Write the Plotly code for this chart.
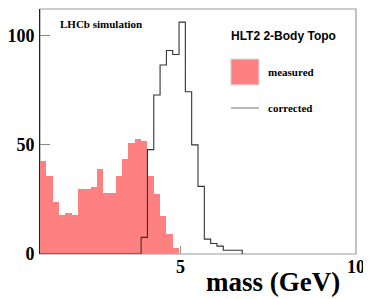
import plotly.graph_objects as go

# Binning of the histograms (GeV)
X_START = 1.0
BIN_WIDTH = 0.18

# Measured mass histogram (22 bins starting at 1 GeV)
measured = [42.7, 35.8, 23.9, 17.7, 18.8, 17.7, 29.7, 29.7, 30.6, 38.8, 27.9,
            27.9, 35.8, 43.6, 50.6, 52.7, 51.8, 35.6, 27.3, 17.6, 9.1, 2.7]

# Corrected mass histogram (32 bins starting at 1 GeV)
corrected = [0] * 16 + [7.6, 47.7, 72.7, 86.4, 93.0, 91.2, 106.0, 74.2, 49.9,
                        30.9, 6.8, 4.8, 3.6, 1.7, 1.7, 1.7]

x_ticks = [5, 10]
y_ticks = [0, 50, 100]

x_range = [1, 10]
y_range = [0, 112]

meas_centers = [X_START + BIN_WIDTH * (i + 0.5) for i in range(len(measured))]
corr_edges = [X_START + BIN_WIDTH * i for i in range(len(corrected) + 1)]
line_x = [corr_edges[0]] + corr_edges + [corr_edges[-1]]
line_y = [0] + corrected + [corrected[-1], 0]

serif = "Liberation Serif"
sans = "Liberation Sans"

fig = go.Figure()
fig.add_trace(go.Bar(
    x=meas_centers, y=measured, width=BIN_WIDTH,
    marker=dict(color="#FF8080", line=dict(width=0)),
    showlegend=False, hoverinfo="skip"))
fig.add_trace(go.Scatter(
    x=line_x, y=line_y, mode="lines",
    line=dict(color="#333333", width=1.1, shape="hv"),
    showlegend=False, hoverinfo="skip"))

# page body adds an 8px offset, so the figure is 8px smaller than the window
fig.update_layout(
    width=363, height=291,
    margin=dict(l=32, r=15, t=1, b=45, autoexpand=False),
    paper_bgcolor="white", plot_bgcolor="white",
    bargap=0,
    xaxis=dict(range=x_range, tickvals=x_ticks, ticks="inside", ticklen=8,
               tickcolor="#999999", showgrid=False, zeroline=False,
               showline=False, automargin=False,
               tickfont=dict(family=serif, size=18, color="black", weight="bold")),
    yaxis=dict(range=y_range, tickvals=y_ticks, ticks="inside", ticklen=10,
               tickcolor="#888888", showgrid=False, zeroline=False,
               showline=True, linecolor="#222222", linewidth=1,
               ticklabelstandoff=1, automargin=False,
               tickfont=dict(family=serif, size=18, color="black", weight="bold")),
    shapes=[
        dict(type="rect", xref="paper", yref="paper", x0=0, y0=0, x1=1, y1=1,
             line=dict(color="#999999", width=1.2), layer="below"),
        dict(type="rect", xref="paper", yref="paper", x0=0.604, y0=0.690,
             x1=0.693, y1=0.796, fillcolor="#FF8080",
             line=dict(color="#dddddd", width=1)),
        dict(type="line", xref="paper", yref="paper", x0=0.604, y0=0.596,
             x1=0.693, y1=0.596, line=dict(color="#888888", width=1.2)),
    ],
    annotations=[
        dict(text="LHCb simulation", xref="paper", yref="paper", x=0.057, y=0.939,
             xanchor="left", yanchor="middle", showarrow=False,
             font=dict(family=serif, size=11, color="black", weight="bold")),
        dict(text="HLT2 2-Body Topo", xref="paper", yref="paper", x=0.770, y=0.890,
             xanchor="center", yanchor="middle", showarrow=False,
             font=dict(family=sans, size=12, color="black", weight="bold")),
        dict(text="measured", xref="paper", yref="paper", x=0.715, y=0.743,
             xanchor="left", yanchor="middle", showarrow=False,
             font=dict(family=serif, size=11, color="black", weight="bold")),
        dict(text="corrected", xref="paper", yref="paper", x=0.715, y=0.596,
             xanchor="left", yanchor="middle", showarrow=False,
             font=dict(family=serif, size=11, color="black", weight="bold")),
        dict(text="mass (GeV)", xref="paper", yref="paper", x=0.956, y=-0.114,
             xanchor="right", yanchor="middle", showarrow=False,
             font=dict(family=serif, size=27, color="black", weight="bold")),
    ],
)

fig.write_html("out.html")
